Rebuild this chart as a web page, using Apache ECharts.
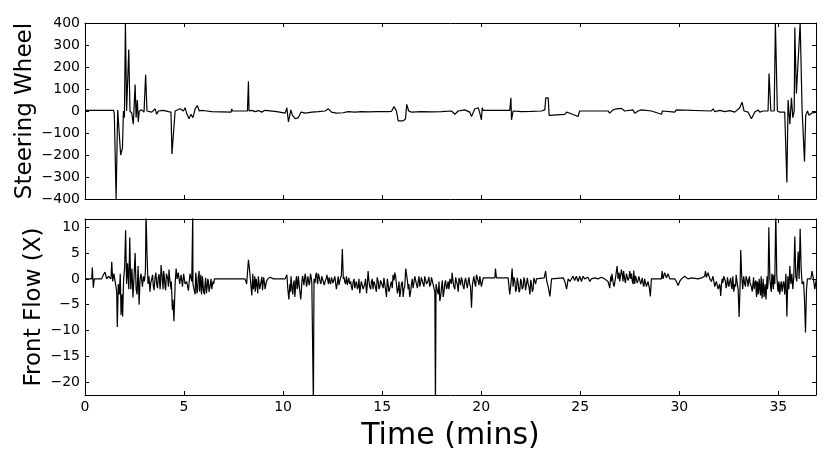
<!DOCTYPE html>
<html>
<head>
<meta charset="utf-8">
<script src="https://cdn.jsdelivr.net/npm/echarts@6/dist/echarts.min.js"></script>
<style>
html,body{margin:0;padding:0;background:#fff;}
#c{width:831px;height:467px;}
</style>
</head>
<body>
<div id="c"></div>
<script>
// ---- data ----
var xTicks = [0, 5, 10, 15, 20, 25, 30, 35];
var steerTicks = [-400, -300, -200, -100, 0, 100, 200, 300, 400];
var flowTicks = [-20, -15, -10, -5, 0, 5, 10];

var steerTime = [0.00,1.45,1.48,1.57,1.60,1.65,1.73,1.80,1.89,1.94,1.99,2.04,2.05,2.10,2.21,2.27,2.36,2.44,2.53,2.58,2.64,2.69,2.74,2.86,2.98,3.06,3.13,3.23,3.37,3.54,3.62,3.70,3.96,4.21,4.34,4.39,4.49,4.55,4.63,4.80,4.97,5.05,5.13,5.25,5.35,5.45,5.56,5.67,5.77,5.89,6.14,6.40,6.48,7.37,7.41,7.44,8.20,8.25,8.28,8.32,8.42,8.59,8.75,8.92,9.09,9.18,9.68,9.73,10.10,10.19,10.27,10.39,10.47,10.61,10.77,10.91,11.11,11.45,11.78,12.12,12.29,
12.44,12.69,13.03,13.28,13.62,13.95,14.29,14.80,15.30,15.47,15.60,15.72,15.81,16.06,16.18,16.24,16.34,16.48,16.98,17.49,18.00,18.50,18.58,18.67,18.84,19.17,19.42,19.51,19.68,19.85,19.93,20.01,20.05,20.10,21.44,21.50,21.53,21.61,22.03,22.54,23.04,23.21,23.26,23.38,23.43,23.52,24.22,24.31,24.48,
24.55,24.89,24.97,26.40,26.49,26.65,26.82,27.08,27.24,27.66,27.75,27.92,28.09,28.59,29.10,29.15,29.77,29.85,29.94,31.62,31.70,31.79,32.04,32.29,32.55,32.80,32.88,33.05,33.17,33.27,33.47,33.64,33.81,33.98,34.06,34.23,34.48,34.53,34.62,34.79,34.85,34.89,34.95,35.07,35.32,35.43,35.49,35.58,35.66,35.73,35.80,35.83,35.91,35.98,36.10,36.20,36.32,36.38,36.47,36.55,36.67,36.92];
var steerValue = [3,3,-15,-400,-400,5,10,-200,-170,0,-30,400,400,0,280,0,-10,-60,120,-30,50,-50,0,5,-5,165,0,3,-5,10,-15,0,3,-3,-5,-195,-200,0,-5,10,0,15,-10,-35,-15,-30,10,25,0,3,0,-3,-5,-5,10,0,0,135,0,-5,3,-3,2,-5,3,0,-3,-10,-10,15,-50,5,-20,-35,-30,-5,-10,-5,-3,0,10,
-5,-10,-8,-3,-5,-3,-4,-3,-3,-2,20,0,-45,-45,-35,30,0,-5,-3,-4,-3,0,8,-15,0,5,-5,-25,10,15,-10,-40,15,3,3,60,-40,0,-3,-2,0,5,60,60,-20,-15,-15,-5,-10,
-3,-25,0,0,-10,5,10,12,0,5,-10,0,5,0,-15,0,-5,5,0,0,10,-3,3,-3,2,-5,-10,15,40,0,-5,-35,-5,5,-5,0,0,170,0,0,400,400,0,-5,-5,-325,50,-60,60,-30,0,380,80,80,400,0,-230,-20,0,-20,-10,-5];

var flowTime = [0.00,0.34,0.37,0.42,0.47,0.84,0.93,1.01,1.09,1.18,1.31,1.35,1.40,1.46,1.52,1.60,1.63,1.68,1.73,1.78,1.82,1.87,1.90,1.95,2.00,2.05,2.10,2.15,2.21,2.26,2.31,2.37,2.42,2.47,2.53,2.58,2.63,2.68,2.73,2.78,2.83,2.90,2.95,3.00,3.05,3.08,3.13,3.18,3.23,3.28,3.37,3.45,3.54,3.62,3.70,3.79,3.84,3.91,3.97,4.04,4.11,4.18,4.24,4.31,4.36,4.41,4.44,4.49,4.55,4.60,4.65,4.71,4.78,4.85,4.92,4.98,5.05,5.13,5.22,5.30,5.39,5.44,5.45,5.51,5.56,5.62,5.69,5.76,5.81,5.88,5.93,5.99,6.06,6.13,6.20,6.26,6.33,6.40,6.46,6.53,8.08,8.16,8.25,8.30,8.37,8.42,8.47,8.54,8.59,8.64,8.69,8.75,8.82,8.89,8.96,9.02,9.09,9.16,9.23,9.34,9.51,10.10,10.19,10.24,10.29,10.34,10.40,10.45,10.52,10.59,10.64,10.71,10.77,10.84,10.89,10.94,11.01,11.08,11.14,11.21,11.28,11.35,11.41,11.48,11.53,11.56,11.65,11.72,11.78,11.87,11.95,12.04,12.12,12.21,12.29,
12.35,12.44,12.52,12.61,12.69,12.78,12.86,12.94,12.99,13.04,13.11,13.20,13.28,13.36,13.45,13.53,13.62,13.70,13.79,13.87,13.95,14.04,14.12,14.21,14.29,14.37,14.46,14.54,14.63,14.71,14.80,14.88,14.96,15.05,15.13,15.22,15.30,15.38,15.47,15.55,15.64,15.72,15.81,15.89,15.97,16.06,16.14,16.19,16.24,16.31,16.39,16.48,16.56,16.65,16.73,16.82,16.90,16.98,17.07,17.15,17.24,17.32,17.40,17.49,17.57,17.66,17.69,17.72,17.83,17.91,18.00,18.08,18.16,18.25,18.33,18.42,18.50,18.53,18.58,18.67,18.75,18.84,18.92,19.00,19.09,19.17,19.26,19.34,19.42,19.51,19.56,19.63,19.68,19.76,19.85,19.93,20.01,20.10,20.69,20.72,20.77,21.36,21.44,21.50,21.56,21.61,21.70,21.78,21.87,21.95,22.03,22.12,22.20,22.29,22.37,22.46,22.54,22.62,22.71,22.79,22.88,23.18,23.25,23.31,23.38,23.47,23.55,23.63,24.14,24.22,24.31,24.39,24.48,
24.55,24.63,24.72,24.80,24.89,24.97,25.06,25.14,25.22,25.39,25.48,25.56,25.73,25.90,26.07,26.23,26.40,26.49,26.54,26.60,26.67,26.74,26.79,26.86,26.91,26.99,27.08,27.13,27.19,27.24,27.33,27.41,27.50,27.55,27.63,27.70,27.75,27.83,27.92,28.00,28.09,28.17,28.25,28.34,28.42,28.49,28.54,28.59,29.10,29.13,29.18,29.26,29.35,29.43,29.52,29.77,29.85,29.94,30.02,30.11,30.27,30.44,30.61,30.95,31.12,31.28,31.32,31.37,31.45,31.54,31.62,31.70,31.79,31.87,31.96,32.04,32.09,32.16,32.24,32.33,32.40,32.46,32.55,32.63,32.70,32.75,32.80,32.87,32.92,32.97,33.02,33.07,33.10,33.15,33.20,33.25,33.30,33.37,33.44,33.51,33.57,33.64,33.73,33.78,33.83,33.88,33.93,33.98,34.03,34.08,34.13,34.18,34.23,34.28,34.33,34.38,34.43,34.48,34.52,34.57,34.62,34.67,34.72,34.77,34.82,34.87,34.92,34.97,35.02,35.07,35.12,35.19,35.26,35.32,35.38,35.43,35.48,35.53,35.58,35.63,35.68,35.73,35.78,35.83,35.88,35.93,36.00,36.05,36.10,36.15,36.20,36.27,36.32,36.37,36.42,36.47,36.64,36.70,36.77,36.84,36.92];
var flowValue = [0,0,2.2,-1.7,0,0,0.8,1.3,0,0.5,0,3.3,-0.5,1.0,-0.5,-2.5,-9.3,-1,-3,1,-7,-3,-7.3,0,2,9.4,-1,3,-2,8,-2,2,-3.6,0,5,-2,-3,2.5,-5,0,1,-1.5,0.5,-0.5,1.5,13,5,-1,0.5,-2.5,0,-1.5,0.5,-1,0.3,-2,2.7,-0.5,1.5,-1.5,1,0,1.8,-1,-0.5,-6,-4,-8.2,-1,2.0,0,1.2,-1,0.8,-1.5,1,-1,-0.5,-2.3,1,-0.5,13,-1,-1,-3,0,-2,1.5,-1,-3,0.5,-2.5,-1,-2.8,0,-2.5,-1,-2,-0.5,0,0,-1,3.7,2,-1,-3.2,1,-1,-2.5,0,-1.5,0.5,-2,-0.5,-2.2,0.3,-2.0,-0.5,0,0.3,0,0,0.8,-2,-4,-1,0.5,-2,-1,-3.5,-0.5,-2,0.5,-2.2,-4,-1,0,-1.5,0.5,-1,0.8,-0.5,0.5,-0.8,-25,0,0.8,-0.5,1,-0.5,0.5,0.8,-0.5,0.8,-1,
-0.5,0.3,-0.8,0.5,-2.0,0.5,-0.5,0.6,5.8,0,-0.5,0.5,-0.5,-1.0,-1.5,-0.8,-1.8,-0.5,-1.5,-2.8,-0.5,-2,-1,-2.8,1.5,-1.5,-0.5,-2,-1,-2.5,-0.5,-1.5,-0.5,-1.8,-1,-3.5,-1,-2,-0.5,0.8,1.2,-1,-2,-3.5,-1,-3.5,-1.5,2,2.1,-2,-3.5,-1,-1.8,0.5,-1,-0.5,-1.5,0.3,-1,0.5,-1,-0.3,-1.5,0.3,-1,-2.5,-25,-1,-3,-4.3,-1.5,-3.5,-1,-2,-0.5,0,-1,1.2,-0.5,-2,-0.5,-2.5,-0.5,0.3,-1.5,-0.5,-1,-0.5,-1,-5.6,-1,0.5,-1,0.8,-0.5,0.5,-1.5,0.2,0.2,2,0.2,0.2,-3.0,-1,2,-1.5,-0.5,-2,-1,-2.2,-0.5,-1.5,-0.5,-2,-1,-3,-1,-2,-0.5,0,0.2,0.2,1.5,-0.5,-1.5,-3.4,0,0.2,0.2,-0.5,-2,0,-0.5,
-0.5,0.5,-0.3,0.5,-0.5,0.5,-0.5,0.5,0,0.3,-0.5,0,0.2,0,0.3,0,-0.5,-1.8,0.5,1,-1,-1.5,0.5,2.5,0,-0.5,1.8,0.5,1.5,0,1,-0.3,1.5,0,-0.5,1.6,-1,0,-0.3,0.5,-0.5,-1,0,-1.5,-0.5,-1.8,-3.4,0,0,1.5,0,1.2,0.2,1.0,0,0,-0.5,-1.3,-0.5,0,0.5,0,0.2,0,0.2,0.5,1.5,0.3,1.2,0,-0.5,0.5,-1.5,-0.5,-2.0,-1,-3.3,0,0.5,-0.5,-1.2,0,-0.5,-1.5,0.5,-2.5,-1,0.8,-0.8,-2,-7.4,-1,5.6,0.5,-2,0.5,-1,0.5,-0.5,0,-0.8,-1.5,-0.5,-2,-1,-2.5,-0.5,-3,0,-2.5,0.5,-3.8,0,-3.5,-1,-4,0.5,-1,10,0,-2,1,-1,0.8,-1,13,0.5,-2,-0.5,-3,-1,-2.5,-0.5,-3,1,-7.3,0.5,-2,2.5,-1,1,-2,0.5,8.2,0.5,-0.5,5.3,0,9.7,2,-1,-0.5,-4,-10.4,-2,0,0,1.5,0,-2.0,0];

// finer wiggles inside the noisy stretches of the flow trace
var flowDetailTime = [3.32,3.41,3.49,3.58,3.66,3.74,3.81,3.88,3.94,4.00,4.07,4.14,4.21,4.27,4.34,
5.59,5.65,5.72,5.79,5.85,5.91,5.96,6.03,6.09,6.16,6.23,6.30,6.36,6.43,6.50,
8.50,8.57,8.62,8.67,8.72,8.79,8.86,8.93,8.99,9.06,
10.37,10.43,10.49,10.56,10.62,10.68,10.74,10.81,10.92,10.98,11.05,11.11,11.18,11.25,11.32,11.38,11.45,
11.61,11.69,11.75,11.83,11.91,12.00,12.08,12.17,12.25,12.32,12.40,12.48,12.57,12.65,12.74,12.82,12.90,13.07,13.15,13.24,13.32,13.41,13.49,13.58,13.66,13.75,13.83,13.91,14.00,14.08,14.16,14.25,14.33,14.42,14.50,14.58,14.67,14.75,14.84,14.92,15.00,15.09,15.17,15.26,15.34,15.43,15.51,15.60,15.68,15.77,15.85,15.93,16.02,16.10,16.28,16.35,16.44,16.52,16.61,16.69,16.78,16.86,16.94,17.03,17.11,17.20,17.28,17.36,17.45,17.53,17.62,
17.77,17.87,17.95,18.04,18.12,18.20,18.29,18.37,18.46,18.62,18.71,18.79,18.88,18.96,19.04,19.13,19.21,19.30,19.38,19.46,
19.60,19.72,19.80,19.89,19.97,
21.65,21.74,21.82,21.91,21.99,22.07,22.16,22.24,22.33,22.41,22.50,22.58,22.66,22.75,
26.57,26.64,26.71,26.96,27.03,27.16,27.28,27.37,27.46,27.59,27.67,27.79,27.87,27.96,28.05,28.13,28.21,28.30,28.38,28.46,
32.12,32.20,32.28,32.36,32.43,32.50,32.59,32.66,32.84,33.34,33.41,33.47,33.54,33.61,33.68,33.75,33.80,33.86,33.90,33.96,34.00,34.05,34.10,34.15,34.20,34.25,34.30,34.35,34.40,34.45,34.60,34.65,34.70,34.75,34.80,34.95,35.00,35.05,35.10,35.15,35.22,35.29];
var flowDetailValue = [-0.8,0.8,-2.2,1.2,-1.8,0.9,-1.2,1.0,-2.0,0.6,-2.2,1.3,-1.5,0.4,-2.0,
1.2,-2.8,0.5,-2.5,0.8,-1.8,0.3,-3.0,0.2,-1.8,-0.5,-2.8,0,-2.2,-1.0,
-2.0,0.5,-1.5,0.3,-2.8,0.2,-2.0,0.4,-2.5,-0.8,
-2.5,0.3,-3.0,-0.3,-2.2,0.5,-1.5,0.3,-2.5,0.6,-1.2,1.0,-1.5,0.5,-1.2,1.0,-0.8,
-0.8,1.2,-1.0,0.8,-1.0,0.3,-1.2,0,1.0,0.3,-1.0,0.6,-0.6,0.3,-0.8,-1.2,0.2,0.4,-1.0,-1.2,0.2,-0.5,-2.2,0,-1.0,-2.0,0,-1.5,-0.2,-2.3,0,-1.2,-0.3,-2.0,0,-0.5,-1.8,0.3,-2.0,-0.3,-1.2,0.2,-2.0,0,-2.5,-1.0,-1.8,-0.3,0.5,-2.8,-0.5,-2.5,-0.5,-2.0,-0.5,-1.0,-2.5,0,-1.5,0.3,-1.8,0.5,-0.8,0.5,-1.5,0.3,-1.2,0.4,-1.0,0.5,-1.2,
-2.0,-0.5,-3.5,-0.3,-2.5,-0.3,-1.5,-2.0,-0.5,-1.5,0.3,-1.0,0.2,-1.2,-0.2,-2.0,0.2,-1.8,0.3,-1.5,
-0.8,-1.5,0.3,-1.2,0.6,
0.3,-2.5,0.2,-2.6,0,-2.0,0.3,-2.2,0.2,-1.5,-0.2,-2.5,0.2,-1.0,
-0.5,0.8,-1.5,1.2,-0.8,-0.5,-0.8,1.2,0.2,1.0,-1.0,0.6,-0.8,0.5,-1.0,0.2,-1.5,-0.3,-1.2,-0.2,
-1.5,-0.8,0.6,-1.8,0.3,-1.5,0.2,-2.0,-1.5,-1.5,0.8,-1.5,0.5,-0.8,-2.5,0.3,-1.2,-0.3,-3.5,-1.0,-2.5,-1.0,-3.2,-1.0,-2.5,-1.5,-2.5,-2.8,-1.5,-2.0,-1.0,-2.5,0.5,-2.0,0.3,-1.0,-2.5,-1.2,-2.0,-0.5,-2.8,-1.0];

function zip(t, v) { var o = []; for (var i = 0; i < t.length; i++) o.push([t[i], v[i]]); return o; }
var flowData = zip(flowTime, flowValue).concat(zip(flowDetailTime, flowDetailValue))
  .sort(function (a, b) { return a[0] - b[0]; });

var FONT = 'DejaVu Sans';
function minusFmt(v) { return String(v).replace('-', '\u2212'); }

function xAx(gi, pos, labels, name) {
  return {
    type: 'value', gridIndex: gi, position: pos, min: 0, max: 36.9,
    axisLine: { show: true, onZero: false, lineStyle: { color: '#000', width: 1 } },
    axisTick: { show: true, inside: true, length: 4, customValues: xTicks, lineStyle: { color: '#000' } },
    axisLabel: { show: labels, customValues: xTicks, color: '#000', fontFamily: FONT, fontSize: 14, margin: 5, formatter: minusFmt },
    splitLine: { show: false },
    name: name || '', nameLocation: 'middle', nameGap: 26, nameMoveOverlap: false,
    nameTextStyle: { color: '#000', fontFamily: FONT, fontSize: 30 }
  };
}
function yAx(gi, pos, mn, mx, ticks, labels, name, gap) {
  return {
    type: 'value', gridIndex: gi, position: pos, min: mn, max: mx,
    axisLine: { show: true, onZero: false, lineStyle: { color: '#000', width: 1 } },
    axisTick: { show: true, inside: true, length: 4, customValues: ticks, lineStyle: { color: '#000' } },
    axisLabel: { show: labels, customValues: ticks, color: '#000', fontFamily: FONT, fontSize: 14, margin: 5, formatter: minusFmt },
    splitLine: { show: false },
    name: name || '', nameLocation: 'middle', nameRotate: 90, nameGap: gap || 0, nameMoveOverlap: false,
    nameTextStyle: { color: '#000', fontFamily: FONT, fontSize: 23 }
  };
}

var chart = echarts.init(document.getElementById('c'), null, { renderer: 'canvas' });
chart.setOption({
  backgroundColor: '#fff',
  animation: false,
  grid: [
    { left: 85, right: 15, top: 23, height: 176, containLabel: false },
    { left: 85, right: 15, top: 219, height: 176, containLabel: false }
  ],
  xAxis: [
    xAx(0, 'bottom', false), xAx(0, 'top', false),
    xAx(1, 'bottom', true, 'Time (mins)'), xAx(1, 'top', false)
  ],
  yAxis: [
    yAx(0, 'left', -400, 400, steerTicks, true, 'Steering Wheel', 48),
    yAx(0, 'right', -400, 400, steerTicks, false),
    yAx(1, 'left', -22.5, 11.6, flowTicks, true, 'Front Flow (X)', 39),
    yAx(1, 'right', -22.5, 11.6, flowTicks, false)
  ],
  series: [
    { type: 'line', xAxisIndex: 0, yAxisIndex: 0, data: zip(steerTime, steerValue), showSymbol: false, clip: true,
      lineStyle: { color: '#000', width: 1.2 } },
    { type: 'line', xAxisIndex: 2, yAxisIndex: 2, data: flowData, showSymbol: false, clip: true,
      lineStyle: { color: '#000', width: 1.2 } }
  ]
});
</script>
</body>
</html>
